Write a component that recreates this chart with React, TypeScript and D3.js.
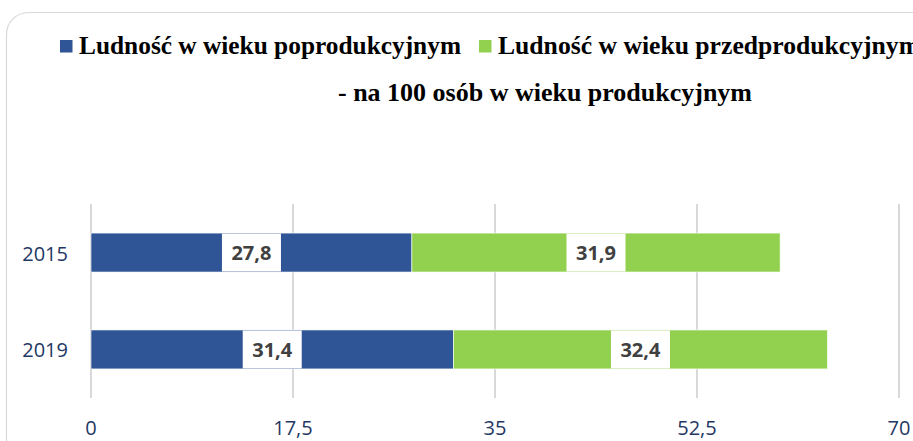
import React, { useEffect, useRef } from 'react';
import * as d3 from 'd3';

const years = ['2015', '2019'];
const seriesNames = ['Ludność w wieku poprodukcyjnym', 'Ludność w wieku przedprodukcyjnym'];
const postProductive = [27.8, 31.4];
const preProductive = [31.9, 32.4];
const tickValues = [0, 17.5, 35, 52.5, 70];
const subtitle = '- na 100 osób w wieku produkcyjnym';
const colors = ['#2f5597', '#92d050'];

const App = () => {
  const svgRef = useRef<SVGSVGElement>(null);

  useEffect(() => {
    const width = 913;
    const height = 441;
    const svg = d3.select(svgRef.current);
    svg.selectAll('*').remove();
    svg.attr('width', width).attr('height', height);

    // chart frame
    svg.append('rect')
      .attr('x', 6.5).attr('y', 12.5)
      .attr('width', 940).attr('height', 460)
      .attr('rx', 22)
      .attr('fill', '#fff')
      .attr('stroke', '#d9d9d9')
      .attr('stroke-width', 1.2);

    const x = d3.scaleLinear().domain([0, 70]).range([91, 899]);
    const y = d3.scaleBand().domain(years).range([204, 398]).paddingInner(0.598).paddingOuter(0.3);

    // gridlines
    svg.append('g')
      .selectAll('line')
      .data(tickValues)
      .enter().append('line')
      .attr('x1', d => x(d)).attr('x2', d => x(d))
      .attr('y1', 204).attr('y2', 398)
      .attr('stroke', '#d9d9d9')
      .attr('stroke-width', 2);

    const rows = years.map((yr, i) => ({
      year: yr,
      parts: [
        { start: 0, value: postProductive[i], color: colors[0] },
        { start: postProductive[i], value: preProductive[i], color: colors[1] },
      ],
    }));

    const bars = svg.append('g');
    rows.forEach(r => {
      r.parts.forEach(p => {
        const x0 = x(p.start);
        const x1 = x(p.start + p.value);
        const yy = y(r.year)!;
        bars.append('rect')
          .attr('x', x0).attr('y', yy)
          .attr('width', x1 - x0).attr('height', y.bandwidth())
          .attr('fill', p.color)
          .attr('stroke', '#fff')
          .attr('stroke-width', 0.6);

        const cx = (x0 + x1) / 2;
        bars.append('rect')
          .attr('x', cx - 29.5).attr('y', yy + 0.5)
          .attr('width', 59).attr('height', y.bandwidth() - 1)
          .attr('fill', '#fff');
        bars.append('text')
          .attr('x', cx).attr('y', yy + y.bandwidth() / 2)
          .attr('dy', '0.36em')
          .attr('text-anchor', 'middle')
          .style('font-family', '"Open Sans", sans-serif')
          .style('font-weight', 'bold')
          .style('font-size', '20px')
          .attr('fill', '#404040')
          .text(p.value.toFixed(1).replace('.', ','));
      });
    });

    // category labels
    svg.append('g')
      .selectAll('text')
      .data(years)
      .enter().append('text')
      .attr('x', 68)
      .attr('y', d => y(d)! + y.bandwidth() / 2 + 8)
      .attr('text-anchor', 'end')
      .style('font-family', '"Open Sans", sans-serif')
      .style('font-size', '20px')
      .attr('fill', '#1f3864')
      .text(d => d);

    // value axis labels
    svg.append('g')
      .selectAll('text')
      .data(tickValues)
      .enter().append('text')
      .attr('x', d => x(d))
      .attr('y', 435)
      .attr('text-anchor', 'middle')
      .style('font-family', '"Open Sans", sans-serif')
      .style('font-size', '20px')
      .attr('fill', '#1f3864')
      .text(d => String(d).replace('.', ','));

    // legend
    const legendX = [60, 479];
    const legendLen = [382, 422];
    const legend = svg.append('g');
    seriesNames.forEach((name, i) => {
      legend.append('rect')
        .attr('x', legendX[i]).attr('y', 40)
        .attr('width', 12.5).attr('height', 12.5)
        .attr('fill', colors[i]);
      legend.append('text')
        .attr('x', legendX[i] + 19).attr('y', 54)
        .attr('textLength', legendLen[i])
        .attr('lengthAdjust', 'spacingAndGlyphs')
        .style('font-family', '"Liberation Serif", serif')
        .style('font-weight', 'bold')
        .style('font-size', '25px')
        .attr('fill', '#000')
        .text(name);
    });

    svg.append('text')
      .attr('x', 338).attr('y', 101)
      .attr('textLength', 414)
      .attr('lengthAdjust', 'spacingAndGlyphs')
      .style('font-family', '"Liberation Serif", serif')
      .style('font-weight', 'bold')
      .style('font-size', '25px')
      .attr('fill', '#000')
      .text(subtitle);
  }, []);

  return (
    <div style={{ position: 'fixed', left: 0, top: 0, width: 913, height: 441, overflow: 'hidden', background: '#fff' }}>
      <svg ref={svgRef} style={{ display: 'block' }}></svg>
    </div>
  );
};

export default App;
